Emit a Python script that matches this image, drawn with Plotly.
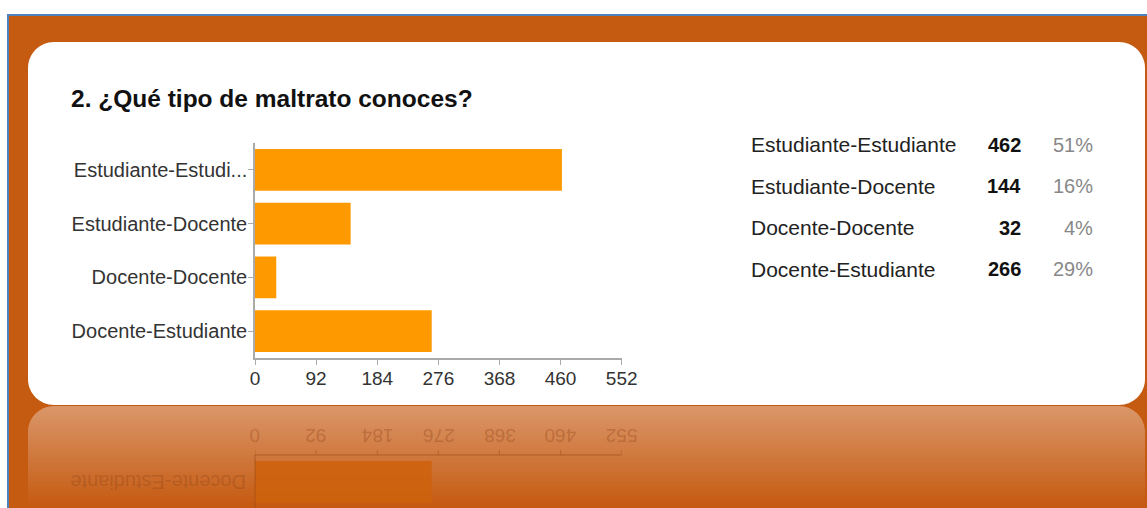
import plotly.graph_objects as go

# ---------------- data ----------------
categories = ["Estudiante-Estudiante", "Estudiante-Docente", "Docente-Docente", "Docente-Estudiante"]
axis_labels = ["Estudiante-Estudi...", "Estudiante-Docente", "Docente-Docente", "Docente-Estudiante"]
counts = [462, 144, 32, 266]
x_ticks = [0, 92, 184, 276, 368, 460, 552]
title_text = "2. ¿Qué tipo de maltrato conoces?"

total = sum(counts)
percents = [f"{round(100 * c / total)}%" for c in counts]

# ---------------- layout constants (pixels) ----------------
W, H = 1147, 508
PLOT_L, PLOT_R, PLOT_T, PLOT_B = 255, 621.7, 143, 358
BARGAP = 0.22
MIRROR = 406.5
CARD = (28, 42, 1145, 405)
RADIUS = 26
FONT = "Arial, Liberation Sans, sans-serif"
BAR_COLOR = "#FF9900"
BG_ORANGE = "#C55A11"
FAINT = "rgba(150,72,25,0.40)"


def px(x):
    return x / W


def py(y):
    return 1 - y / H


def rounded_path(x0, y0, x1, y1, r):
    k = 0.5523 * r
    pts = [
        ("M", [(x0 + r, y0)]),
        ("L", [(x1 - r, y0)]),
        ("C", [(x1 - r + k, y0), (x1, y0 + r - k), (x1, y0 + r)]),
        ("L", [(x1, y1 - r)]),
        ("C", [(x1, y1 - r + k), (x1 - r + k, y1), (x1 - r, y1)]),
        ("L", [(x0 + r, y1)]),
        ("C", [(x0 + r - k, y1), (x0, y1 - r + k), (x0, y1 - r)]),
        ("L", [(x0, y0 + r)]),
        ("C", [(x0, y0 + r - k), (x0 + r - k, y0), (x0 + r, y0)]),
    ]
    s = ""
    for cmd, ps in pts:
        s += cmd + " " + " ".join(f"{px(a):.6f},{py(b):.6f}" for a, b in ps) + " "
    return s + "Z"


def corner_mask(cx, cy, r, side):
    # concave wedge outside a quarter circle at a top corner (cx,cy = corner point)
    k = 0.5523 * r
    if side == "left":
        p = [(cx, cy), (cx + r, cy), (cx + r - k, cy), (cx, cy + r - k), (cx, cy + r)]
    else:
        p = [(cx, cy), (cx - r, cy), (cx - r + k, cy), (cx, cy + r - k), (cx, cy + r)]
    f = [f"{px(a):.6f},{py(b):.6f}" for a, b in p]
    return f"M {f[0]} L {f[1]} C {f[2]} {f[3]} {f[4]} Z"


shapes = []
# orange slide background and blue border
shapes.append(dict(type="rect", xref="paper", yref="paper", x0=px(8), x1=1, y0=0, y1=py(15),
                   fillcolor=BG_ORANGE, line_width=0, layer="below"))
shapes.append(dict(type="line", xref="paper", yref="paper", x0=px(7), x1=1, y0=py(15), y1=py(15),
                   line=dict(color="#4F81BD", width=2), layer="below"))
shapes.append(dict(type="line", xref="paper", yref="paper", x0=px(8), x1=px(8), y0=0, y1=py(14),
                   line=dict(color="#4F81BD", width=2), layer="below"))

# reflection gradient strips
top_c, bot_c = (218, 150, 104), (197, 90, 17)
ref_top = CARD[3] + 1
n_strips = 34
step = (H - ref_top) / n_strips
for s in range(n_strips):
    t = s / (n_strips - 1)
    c = tuple(round(top_c[j] + (bot_c[j] - top_c[j]) * t) for j in range(3))
    shapes.append(dict(type="rect", xref="paper", yref="paper",
                       x0=px(CARD[0]), x1=px(CARD[2]),
                       y0=py(ref_top + step * (s + 1) + 0.5), y1=py(ref_top + step * s),
                       fillcolor=f"rgb{c}", line_width=0, layer="below"))
shapes.append(dict(type="path", xref="paper", yref="paper", path=corner_mask(CARD[0], ref_top, RADIUS, "left"),
                   fillcolor=BG_ORANGE, line_width=0, layer="below"))
shapes.append(dict(type="path", xref="paper", yref="paper", path=corner_mask(CARD[2], ref_top, RADIUS, "right"),
                   fillcolor=BG_ORANGE, line_width=0, layer="below"))

# white rounded card
shapes.append(dict(type="path", xref="paper", yref="paper", path=rounded_path(*CARD, RADIUS),
                   fillcolor="white", line_width=0, layer="below"))

# ---- reflection of the chart (only the last row falls inside the picture) ----
band = (PLOT_B - PLOT_T) / len(categories)
i_last = len(categories) - 1
bar_top = PLOT_T + band * (i_last + BARGAP / 2)
bar_bot = PLOT_T + band * (i_last + 1 - BARGAP / 2)
r_y0 = 2 * MIRROR - bar_bot
r_y1 = min(2 * MIRROR - bar_top, H)
shapes.append(dict(type="rect", xref="x", yref="paper", x0=0, x1=counts[i_last],
                   y0=py(r_y1), y1=py(r_y0), fillcolor="rgba(206,98,12,0.85)", line_width=0))
axis_m = 2 * MIRROR - PLOT_B
shapes.append(dict(type="line", xref="x", yref="paper", x0=x_ticks[0], x1=x_ticks[-1],
                   y0=py(axis_m), y1=py(axis_m), line=dict(color=FAINT, width=1.5)))
for t in x_ticks:
    shapes.append(dict(type="line", xref="x", yref="paper", x0=t, x1=t,
                       y0=py(axis_m), y1=py(axis_m - 5), line=dict(color=FAINT, width=1)))
shapes.append(dict(type="line", xref="paper", yref="paper", x0=px(PLOT_L), x1=px(PLOT_L),
                   y0=py(axis_m), y1=0, line=dict(color=FAINT, width=1.5)))

annotations = []
annotations.append(dict(text=f"<b>{title_text}</b>", xref="paper", yref="paper", x=px(69), y=py(98),
                        xanchor="left", yanchor="middle", showarrow=False,
                        font=dict(family=FONT, size=24.5, color="#111111")))

ROW0, ROW_STEP = 145, 41.4
for i, (cat, cnt, pct) in enumerate(zip(categories, counts, percents)):
    yy = py(ROW0 + ROW_STEP * i)
    annotations.append(dict(text=cat, xref="paper", yref="paper", x=px(749), y=yy, xanchor="left",
                            yanchor="middle", showarrow=False, font=dict(family=FONT, size=21, color="#222222")))
    annotations.append(dict(text=f"<b>{cnt}</b>", xref="paper", yref="paper", x=px(1023), y=yy, xanchor="right",
                            yanchor="middle", showarrow=False, font=dict(family=FONT, size=20, color="#111111")))
    annotations.append(dict(text=pct, xref="paper", yref="paper", x=px(1095), y=yy, xanchor="right",
                            yanchor="middle", showarrow=False, font=dict(family=FONT, size=20, color="#888888")))

# mirrored tick labels
for t in x_ticks:
    annotations.append(dict(text=str(t), xref="x", yref="paper", x=t, y=py(2 * MIRROR - 377),
                            xanchor="center", yanchor="middle", textangle=180, showarrow=False,
                            font=dict(family=FONT, size=19, color=FAINT)))
annotations.append(dict(text=axis_labels[i_last], xref="paper", yref="paper", x=px(PLOT_L - 7),
                        y=py(2 * MIRROR - (bar_top + bar_bot) / 2), xanchor="right", yanchor="middle",
                        textangle=180, showarrow=False, font=dict(family=FONT, size=20, color=FAINT)))

fig = go.Figure(go.Bar(x=counts, y=categories, orientation="h", marker=dict(color=BAR_COLOR, line_width=0),
                       hoverinfo="skip"))

fig.update_layout(
    width=W, height=H, autosize=False,
    margin=dict(l=0, r=0, t=0, b=0, pad=0),
    paper_bgcolor="white", plot_bgcolor="rgba(0,0,0,0)",
    showlegend=False, bargap=BARGAP,
    font=dict(family=FONT, color="#333333"),
    shapes=shapes, annotations=annotations,
    xaxis=dict(domain=[px(PLOT_L), px(PLOT_R)], range=[0, x_ticks[-1]], tickvals=x_ticks,
               showline=True, linecolor="#AAAAAA", linewidth=1.5, ticks="outside", ticklen=5,
               tickcolor="#AAAAAA", showgrid=False, zeroline=False, automargin=False,
               ticklabelstandoff=-3,
               tickfont=dict(family=FONT, size=19, color="#333333"), fixedrange=True),
    yaxis=dict(domain=[py(PLOT_B), py(PLOT_T)], categoryorder="array", categoryarray=categories,
               range=[len(categories) - 0.5, -0.5], tickvals=categories, ticktext=axis_labels,
               showline=True, linecolor="#AAAAAA", linewidth=1.5, ticks="outside", ticklen=5,
               tickcolor="#AAAAAA", showgrid=False, zeroline=False, automargin=False,
               ticklabelstandoff=-3,
               tickfont=dict(family=FONT, size=20, color="#333333"), fixedrange=True),
)

fig.write_html("out.html", config={"displayModeBar": False},
               post_script="document.body.style.margin='0';document.body.style.overflow='hidden';")
